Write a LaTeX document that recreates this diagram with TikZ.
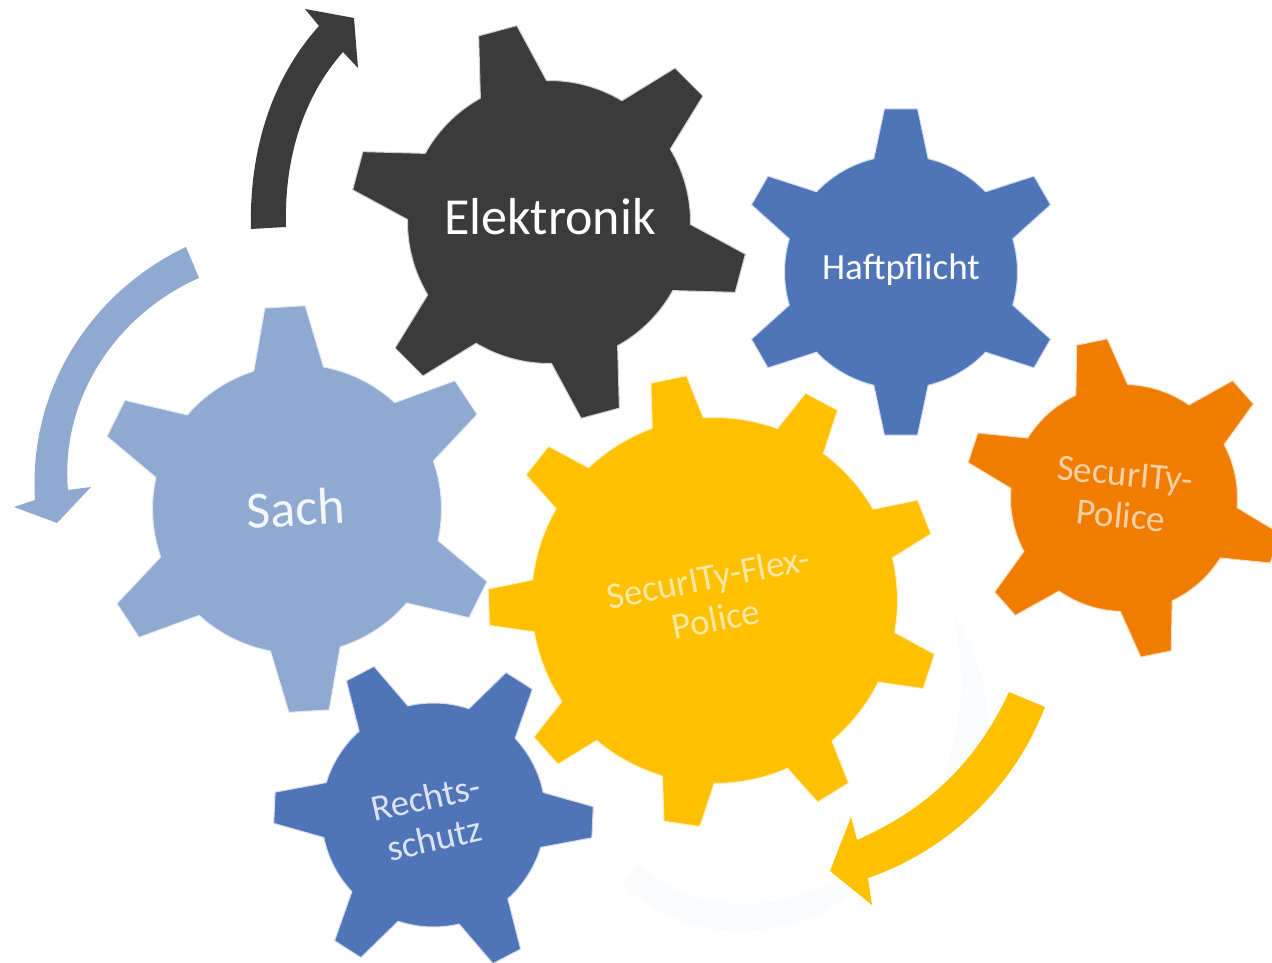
\documentclass[tikz,border=0pt]{standalone}
\usepackage{fontspec}
\setmainfont{Carlito}
\definecolor{cdark}{HTML}{3B3B3B}
\definecolor{cblue}{HTML}{4F74B8}
\definecolor{clight}{HTML}{8FA9D1}
\definecolor{cyell}{HTML}{FFC000}
\definecolor{corange}{HTML}{F07C00}
\definecolor{cghost}{HTML}{FAFBFD}
% #1 colour, #2 cx, #3 cy (image coordinates), #4 body r, #5 outer R, #6 teeth, #7 rotation, #8 base half angle, #9 tip half angle
\newcommand{\gearshape}[9]{%
  \pgfmathsetmacro{\gstep}{360/#6}%
  \pgfmathtruncatemacro{\glast}{#6-1}%
  \fill[#1,draw=#1!25,line width=1pt,line join=round,shift={(#2,{963-#3})}]
    (#7-#8:#4)
    \foreach \gi [evaluate=\gi as \ga using #7+\gi*\gstep] in {0,...,\glast}{
      -- (\ga-#9:#5) -- (\ga+#9:#5) -- (\ga+#8:#4)
      arc[start angle={\ga+#8},end angle={\ga+\gstep-#8},radius=#4]
    } -- cycle;
}
\tikzset{
  x=1pt,y=1pt,
  big/.style={font=\fontsize{52}{56}\selectfont,align=center,text=white},
  mid/.style={font=\fontsize{37}{42}\selectfont,align=center},
  imgcoords/.style={yshift=963pt,y=-1pt}
}
\begin{document}
\begin{tikzpicture}
\useasboundingbox (0,0) rectangle (1272,963);
\fill[white] (0,0) rectangle (1272,963);
\begin{scope}[imgcoords]
% faint ghost bands
\fill[cghost] (953,617) .. controls (985,660) and (1000,730) .. (975,782) -- (945,772) .. controls (965,720) and (965,660) .. (953,617) -- cycle;
\fill[cghost] (623,883) .. controls (680,945) and (790,945) .. (850,893) -- (840,878) .. controls (780,915) and (690,915) .. (638,863) -- cycle;
% arrows
\fill[cdark] (251,229) .. controls (249,150) and (272,78) .. (319,26)
  -- (305,9) -- (354,18) -- (358,68) -- (343,52)
  .. controls (305,95) and (284,155) .. (286,227) -- cycle;
\fill[clight] (186,247) .. controls (95,290) and (28,385) .. (35,500)
  -- (14,507) -- (57,523) -- (91,487) -- (68,490)
  .. controls (60,400) and (115,315) .. (199,278) -- cycle;
\fill[cyell] (1009,692) .. controls (975,765) and (925,810) .. (857,840)
  -- (851,817) -- (830,871) -- (872,905) -- (868,878)
  .. controls (950,850) and (1015,785) .. (1045,707) -- cycle;
\end{scope}
% gears
\gearshape{clight}{297}{509}{144.5}{203.5}{6}{93.4}{14}{5.7}
\gearshape{cdark}{549}{222}{141.5}{199}{6}{105}{14}{5.7}
\gearshape{cblue}{901}{272}{116.5}{164}{6}{90}{13.5}{5.8}
\gearshape{corange}{1124}{498}{113.5}{160}{6}{101.6}{13.5}{5.6}
\gearshape{cblue}{433.5}{815}{112}{160}{6}{117.4}{14.2}{5.6}
\gearshape{cyell}{714.5}{600.5}{183}{226.5}{9}{101.7}{8.2}{4.6}
% labels
\node[big] (elek) at (550,746) {Elektronik};
\node[mid,text=white] (haft) at (901,693) {Haftpflicht};
\node[big,text=white!90!clight,rotate=3] (sach) at (296,455) {Sach};
\node[mid,text=cyell!35!white,rotate=11] (flex) at (712,365) {SecurITy-Flex-\\Police};
\node[mid,text=corange!35!white,rotate=-5.5] (pol) at (1123,468) {SecurITy-\\Police};
\node[mid,text=cblue!20!white,rotate=12.5] (rech) at (430,145) {Rechts-\\schutz};
\end{tikzpicture}
\end{document}
